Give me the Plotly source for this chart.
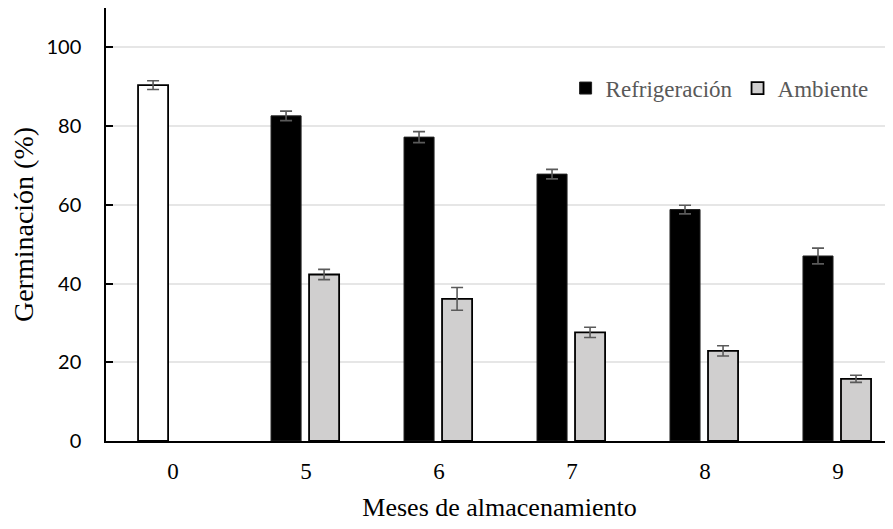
import plotly.graph_objects as go

months = ["0", "5", "6", "7", "8", "9"]
control_x = ["0"]
control_vals = [90.4]
control_err = [1.1]
refrig_x = ["5", "6", "7", "8", "9"]
refrig_vals = [82.6, 77.2, 67.8, 58.8, 47.0]
refrig_err = [1.2, 1.4, 1.2, 1.1, 2.0]
amb_vals = [42.3, 36.1, 27.6, 22.9, 15.8]
amb_err = [1.3, 2.9, 1.3, 1.3, 0.9]

W = 0.226
err_style = dict(type="data", color="#5a5a5a", thickness=1.6, width=6)

fig = go.Figure()
fig.add_trace(go.Bar(
    x=control_x, y=control_vals, width=W, offset=-0.263,
    marker=dict(color="white", line=dict(color="black", width=1.8)),
    error_y=dict(array=control_err, **err_style), showlegend=False,
))
fig.add_trace(go.Bar(
    name="Refrigeración", x=refrig_x, y=refrig_vals, width=W, offset=-0.263,
    marker=dict(color="black", line=dict(color="#222222", width=1)),
    error_y=dict(array=refrig_err, **err_style),
))
fig.add_trace(go.Bar(
    name="Ambiente", x=refrig_x, y=amb_vals, width=W, offset=0.023,
    marker=dict(color="#d0cfcf", line=dict(color="black", width=1.8)),
    error_y=dict(array=amb_err, **err_style),
))

fig.update_layout(
    width=885, height=521,
    margin=dict(l=98, r=0, t=0, b=88),
    plot_bgcolor="white", paper_bgcolor="white",
    barmode="overlay",
    legend=dict(
        orientation="h", x=0.584, y=0.815, xanchor="left", yanchor="middle",
        font=dict(family="Liberation Serif", size=23, color="#595959"),
        itemwidth=30, bgcolor="rgba(0,0,0,0)",
    ),
    xaxis=dict(
        type="category", categoryorder="array", categoryarray=months,
        range=[-0.504, 5.414],
        showline=True, linecolor="black", linewidth=1.5,
        ticks="", showgrid=False, ticklabelstandoff=9,
        tickfont=dict(family="Liberation Serif", size=23, color="black"),
        title=dict(text="Meses de almacenamiento",
                   font=dict(family="Liberation Serif", size=26, color="black"),
                   standoff=14),
    ),
    yaxis=dict(
        range=[0, 110], tickvals=[0, 20, 40, 60, 80, 100],
        showline=True, linecolor="black", linewidth=1.5,
        ticks="inside", ticklen=7, tickwidth=1.5, tickcolor="black",
        showgrid=True, gridcolor="#e6e6e6", gridwidth=1.5,
        zeroline=False, ticklabelstandoff=19,
        tickfont=dict(family="Lato", size=20, color="black"),
        title=dict(text="Germinación (%)",
                   font=dict(family="Liberation Serif", size=28, color="black"),
                   standoff=9),
    ),
)

fig.write_html("out.html")
